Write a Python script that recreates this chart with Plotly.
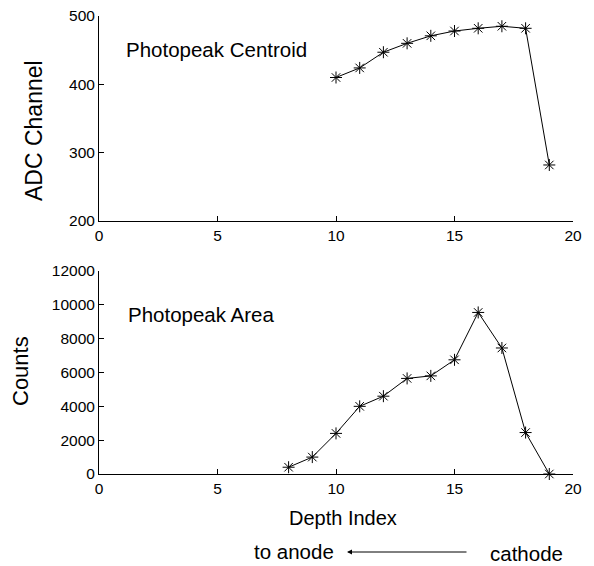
import plotly.graph_objects as go

depth_centroid = [10, 11, 12, 13, 14, 15, 16, 17, 18, 19]
centroid = [410, 424, 447, 460, 471, 478, 482, 485, 482, 282]

depth_area = [8, 9, 10, 11, 12, 13, 14, 15, 16, 17, 18, 19]
area = [400, 1000, 2400, 4000, 4600, 5650, 5800, 6750, 9550, 7450, 2450, 0]

x_ticks = [0, 5, 10, 15, 20]
y1_ticks = [200, 300, 400, 500]
y2_ticks = [0, 2000, 4000, 6000, 8000, 10000, 12000]
y2_labels = ["0", "2000", "4000", "6000", "8000", "10000", "12000"]

W, H = 594, 566
L, R, T, B = 99, 21, 16, 92
PW = W - L - R
PH = H - T - B

def px_to_paper_x(px):
    return (px - L) / PW

def px_to_paper_y(py):
    return (H - B - py) / PH

fig = go.Figure()

line_style = dict(color="black", width=1)
marker_style = dict(symbol="asterisk-open", size=10, color="black",
                    line=dict(color="black", width=1))

fig.add_trace(go.Scatter(x=depth_centroid, y=centroid, mode="lines+markers",
                         line=line_style, marker=marker_style,
                         xaxis="x", yaxis="y", showlegend=False))
fig.add_trace(go.Scatter(x=depth_area, y=area, mode="lines+markers",
                         line=line_style, marker=marker_style,
                         xaxis="x2", yaxis="y2", showlegend=False,
                         cliponaxis=False))

font = "Liberation Sans, Arial, sans-serif"
tickfont = dict(family=font, size=15.5, color="black")

common_x = dict(range=[0, 20], tickvals=x_ticks, ticks="inside", ticklen=5,
                tickcolor="black", showline=True, linecolor="black", linewidth=1,
                showgrid=False, zeroline=False, tickfont=tickfont, mirror=False,
                automargin=False)
common_y = dict(ticks="inside", ticklen=5, tickcolor="black", showline=True,
                linecolor="black", linewidth=1, showgrid=False, zeroline=False,
                tickfont=tickfont, automargin=False)

top_bottom = px_to_paper_y(221)
bot_top = px_to_paper_y(271)

fig.update_layout(
    width=W, height=H,
    margin=dict(l=L, r=R, t=T, b=B, autoexpand=False),
    paper_bgcolor="white", plot_bgcolor="white",
    xaxis=dict(domain=[0, 1], anchor="y", **common_x),
    yaxis=dict(domain=[top_bottom, 1], anchor="x", range=[200, 500],
               tickvals=y1_ticks, **common_y),
    xaxis2=dict(domain=[0, 1], anchor="y2", **common_x),
    yaxis2=dict(domain=[0, bot_top], anchor="x2", range=[0, 12000],
                tickvals=y2_ticks, ticktext=y2_labels, **common_y),
    font=dict(family=font, color="black"),
)

annotations = [
    dict(text="Photopeak Centroid", x=px_to_paper_x(124), y=px_to_paper_y(50),
         xanchor="left", yanchor="middle", size=20.5),
    dict(text="Photopeak Area", x=px_to_paper_x(126), y=px_to_paper_y(314),
         xanchor="left", yanchor="middle", size=20.5),
    dict(text="ADC Channel", x=px_to_paper_x(34), y=px_to_paper_y(131),
         textangle=-90, xanchor="center", yanchor="middle", size=23),
    dict(text="Counts", x=px_to_paper_x(20), y=px_to_paper_y(371),
         textangle=-90, xanchor="center", yanchor="middle", size=22),
    dict(text="Depth Index", x=px_to_paper_x(343), y=px_to_paper_y(518),
         xanchor="center", yanchor="middle", size=20),
    dict(text="to anode", x=px_to_paper_x(294), y=px_to_paper_y(551),
         xanchor="center", yanchor="middle", size=20.5),
    dict(text="cathode", x=px_to_paper_x(526), y=px_to_paper_y(553),
         xanchor="center", yanchor="middle", size=20.5),
]
for a in annotations:
    size = a.pop("size")
    fig.add_annotation(xref="paper", yref="paper", showarrow=False,
                       font=dict(family=font, size=size, color="black"), **a)

fig.add_annotation(xref="paper", yref="paper",
                   x=px_to_paper_x(347), y=px_to_paper_y(552),
                   ax=121, ay=0,
                   text="", showarrow=True, arrowhead=2, arrowsize=1,
                   arrowwidth=1, arrowcolor="black")

fig.write_html("out.html")
